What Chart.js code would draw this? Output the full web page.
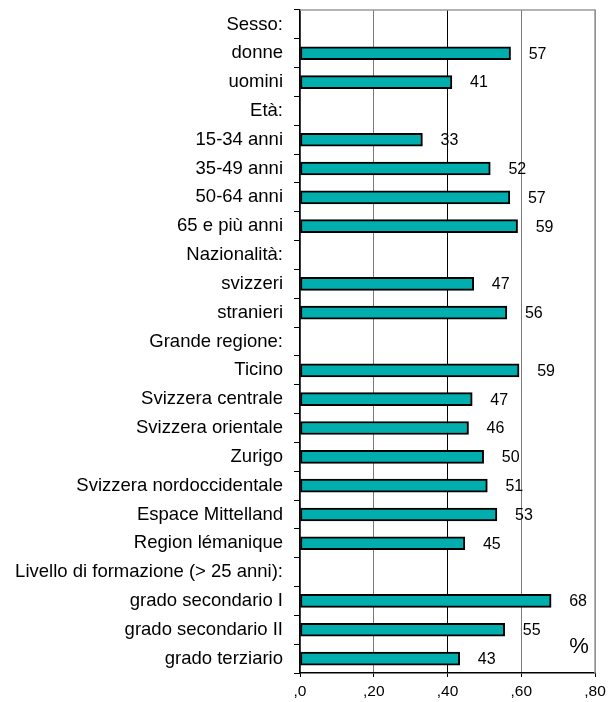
<!DOCTYPE html>
<html>
<head>
<meta charset="utf-8">
<script src="https://cdn.jsdelivr.net/npm/chart.js@4.4.1/dist/chart.umd.min.js"></script>
<style>
  html, body { margin: 0; padding: 0; background: #ffffff; }
  #wrap { width: 612px; height: 702px; }
</style>
</head>
<body>
<div id="wrap"><canvas id="c" width="612" height="702"></canvas></div>
<script>
// ---- Data ----
const categories = [
  "Sesso:", "donne", "uomini",
  "Età:", "15-34 anni", "35-49 anni", "50-64 anni", "65 e più anni",
  "Nazionalità:", "svizzeri", "stranieri",
  "Grande regione:", "Ticino", "Svizzera centrale", "Svizzera orientale", "Zurigo",
  "Svizzera nordoccidentale", "Espace Mittelland", "Region lémanique",
  "Livello di formazione (> 25 anni):", "grado secondario I", "grado secondario II", "grado terziario"
];
const values = [
  null, 0.571, 0.412,
  null, 0.332, 0.516, 0.569, 0.590,
  null, 0.471, 0.561,
  null, 0.594, 0.467, 0.457, 0.498,
  0.508, 0.534, 0.447,
  null, 0.681, 0.555, 0.433
];
const valueLabels = [
  null, "57", "41",
  null, "33", "52", "57", "59",
  null, "47", "56",
  null, "59", "47", "46", "50",
  "51", "53", "45",
  null, "68", "55", "43"
];
const xTickLabels = [",0", ",20", ",40", ",60", ",80"];
const unitLabel = "%";

const FONT = "'Liberation Sans', Arial, Helvetica, sans-serif";

const decorPlugin = {
  id: 'decor',
  beforeDatasetsDraw(chart) {
    const { ctx, chartArea: a } = chart;
    ctx.save();
    ctx.strokeStyle = '#9a9a9a';
    ctx.lineWidth = 1.5;
    ctx.beginPath();
    ctx.moveTo(a.left, a.top);
    ctx.lineTo(a.right, a.top);
    ctx.lineTo(a.right, a.bottom);
    ctx.stroke();
    ctx.restore();
  },
  afterDatasetsDraw(chart) {
    const { ctx, chartArea: a } = chart;
    const meta = chart.getDatasetMeta(0);
    ctx.save();
    ctx.fillStyle = '#000';
    ctx.font = "16px " + FONT;
    ctx.textAlign = 'center';
    ctx.textBaseline = 'middle';
    meta.data.forEach((bar, i) => {
      const t = valueLabels[i];
      if (t === null || values[i] === null) return;
      ctx.fillText(t, bar.x + 27, bar.y + 1);
    });
    ctx.font = "22px " + FONT;
    ctx.fillText(unitLabel, a.right - 16, a.bottom - 26);
    ctx.restore();
  }
};

new Chart(document.getElementById('c'), {
  type: 'bar',
  data: {
    labels: categories,
    datasets: [{
      data: values,
      backgroundColor: '#00AEAE',
      borderColor: '#000000',
      borderWidth: 2,
      borderSkipped: false,
      barThickness: 13
    }]
  },
  options: {
    indexAxis: 'y',
    responsive: false,
    animation: false,
    devicePixelRatio: 1,
    layout: { padding: { top: 10, right: 17, left: 0, bottom: 0 } },
    plugins: {
      legend: { display: false },
      tooltip: { enabled: false },
      title: { display: false }
    },
    scales: {
      x: {
        min: 0, max: 0.8,
        ticks: {
          stepSize: 0.2,
          color: '#000',
          font: { family: FONT, size: 15.5 },
          padding: 5,
          maxRotation: 0,
          callback: (v, i) => xTickLabels[i]
        },
        grid: {
          color: (c) => (c.tick && Math.abs(c.tick.value - 0.4) < 1e-6) ? '#000000' : '#7a7a7a',
          lineWidth: 1,
          drawTicks: true,
          tickLength: 4,
          tickColor: '#000'
        },
        border: { color: '#000', width: 1.5 },
        afterFit: (s) => { s.height = 29; s.paddingLeft = 0; s.paddingRight = 0; }
      },
      y: {
        ticks: {
          color: '#000',
          font: { family: FONT, size: 18.5 },
          padding: 11,
          autoSkip: false
        },
        grid: {
          drawOnChartArea: false,
          drawTicks: true,
          tickLength: 6,
          tickColor: '#000',
          offset: true
        },
        border: { color: '#000', width: 1.5 },
        afterFit: (s) => { s.width = 300; s.paddingTop = 0; s.paddingBottom = 0; }
      }
    }
  },
  plugins: [decorPlugin]
});
</script>
</body>
</html>
